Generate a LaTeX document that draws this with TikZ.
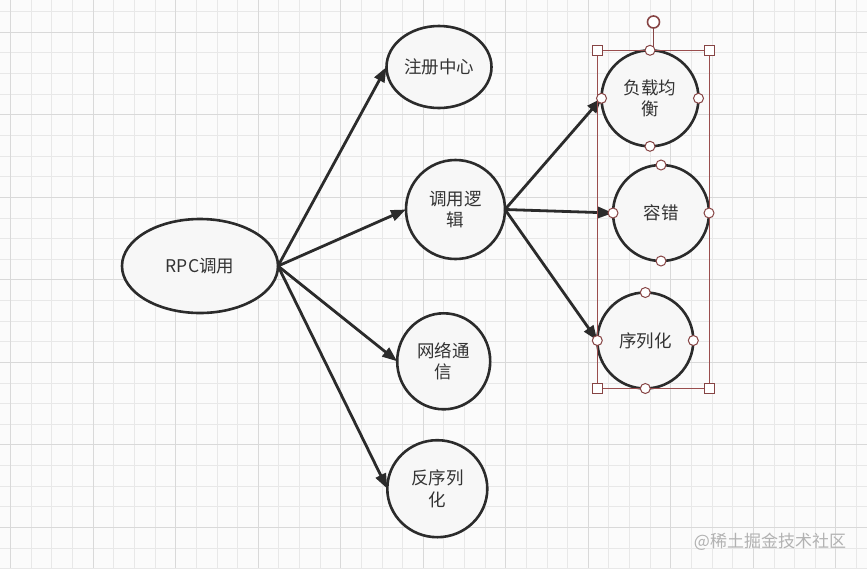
\documentclass[tikz,border=0pt]{standalone}
\usepackage{fontspec}
\newfontfamily\cjk{Noto Sans CJK SC}
\usetikzlibrary{shapes.geometric,arrows.meta}
\definecolor{bgc}{HTML}{FBFBFB}
\definecolor{minorg}{HTML}{E8E8E8}
\definecolor{majorg}{HTML}{D9D9D9}
\definecolor{ink}{HTML}{2B2B2B}
\definecolor{txt}{HTML}{333333}
\definecolor{nodefill}{HTML}{F7F7F7}
\definecolor{selc}{HTML}{9A4E4E}
\definecolor{handc}{HTML}{864444}
\definecolor{wm}{HTML}{B2B2B2}
\tikzset{
  minorgrid/.style={draw=minorg,line width=1pt},
  majorgrid/.style={draw=majorg,line width=1pt},
  bubble/.style={ellipse,draw=ink,fill=nodefill,line width=2.6pt,inner sep=0pt,outer sep=0pt,
    text=txt,align=center,font=\cjk\fontsize{17.5}{21.5}\selectfont},
  link/.style={draw=ink,line width=2.8pt,-{Triangle[length=15pt,width=11pt]}},
  selbox/.style={rectangle,draw=selc,line width=1pt,inner sep=0pt,outer sep=0pt},
  hsq/.style={rectangle,draw=handc,fill=white,line width=1pt,minimum size=10pt,inner sep=0pt},
  hdot/.style={circle,draw=handc,fill=white,line width=1pt,minimum size=10pt,inner sep=0pt},
  hrot/.style={circle,draw=handc,fill=white,line width=1.6pt,minimum size=12pt,inner sep=0pt},
}
\begin{document}
\begin{tikzpicture}[x=1pt,y=-1pt]
\useasboundingbox (0,0) rectangle (867,568);
\fill[bgc] (0,0) rectangle (867,568);
% grid
\foreach \k in {0,...,41}{
  \pgfmathsetmacro\gx{floor(10.7+20.63*\k)+0.5}
  \draw[minorgrid] (\gx,0) -- (\gx,568);
}
\foreach \k in {0,...,27}{
  \pgfmathsetmacro\gy{floor(11.7+20.63*\k)+0.5}
  \draw[minorgrid] (0,\gy) -- (867,\gy);
}
\foreach \k in {0,4,...,40}{
  \pgfmathsetmacro\gx{floor(10.7+20.63*\k)+0.5}
  \draw[majorgrid] (\gx,0) -- (\gx,568);
}
\foreach \k in {1,5,...,25}{
  \pgfmathsetmacro\gy{floor(11.7+20.63*\k)+0.5}
  \draw[majorgrid] (0,\gy) -- (867,\gy);
}
% nodes
\node[bubble,minimum width=156pt,minimum height=94pt] (rpc) at (200,266) {RPC调用};
\node[bubble,minimum width=105pt,minimum height=82pt] (reg) at (439,67) {注册中心};
\node[bubble,minimum width=99pt,minimum height=99pt] (logic) at (455.5,209.5) {调用逻\\辑};
\node[bubble,minimum width=93pt,minimum height=96pt] (net) at (443.7,361.3) {网络通\\信};
\node[bubble,minimum width=100pt,minimum height=97pt] (deser) at (437.3,488.7) {反序列\\化};
\node[bubble,minimum width=97pt,minimum height=96pt] (lb) at (650,98.3) {负载均\\衡};
\node[bubble,minimum width=96pt,minimum height=96pt] (ft) at (661,213) {容错};
\node[bubble,minimum width=96pt,minimum height=96pt] (ser) at (645.3,340.5) {序列化};
% connectors
\draw[link] (rpc.east) -- (reg.west);
\draw[link] (rpc.east) -- (logic.west);
\draw[link] (rpc.east) -- (net.west);
\draw[link] (rpc.east) -- (deser.west);
\draw[link] (logic.east) -- (lb.west);
\draw[link] (logic.east) -- (ft.west);
\draw[link] (logic.east) -- (ser.west);
% selection
\node[selbox,minimum width=112pt,minimum height=338pt] (sel) at (653.5,219.5) {};
\node[hrot] (rot) at (653.5,22) {};
\draw[draw=handc,line width=1.2pt] (rot) -- (sel.north);
\node[hsq] (c1) at (sel.north west) {};
\node[hsq] (c2) at (sel.north east) {};
\node[hsq] (c3) at (sel.south west) {};
\node[hsq] (c4) at (sel.south east) {};
\foreach \n in {lb,ft,ser}{
  \node[hdot] (\n-n) at (\n.north) {};
  \node[hdot] (\n-s) at (\n.south) {};
  \node[hdot] (\n-w) at (\n.west) {};
  \node[hdot] (\n-e) at (\n.east) {};
}
% watermark
\node[text=wm,font=\cjk\fontsize{17}{20}\selectfont,inner sep=0pt] (wmark) at (770,541.5) {@稀土掘金技术社区};
\end{tikzpicture}
\end{document}
